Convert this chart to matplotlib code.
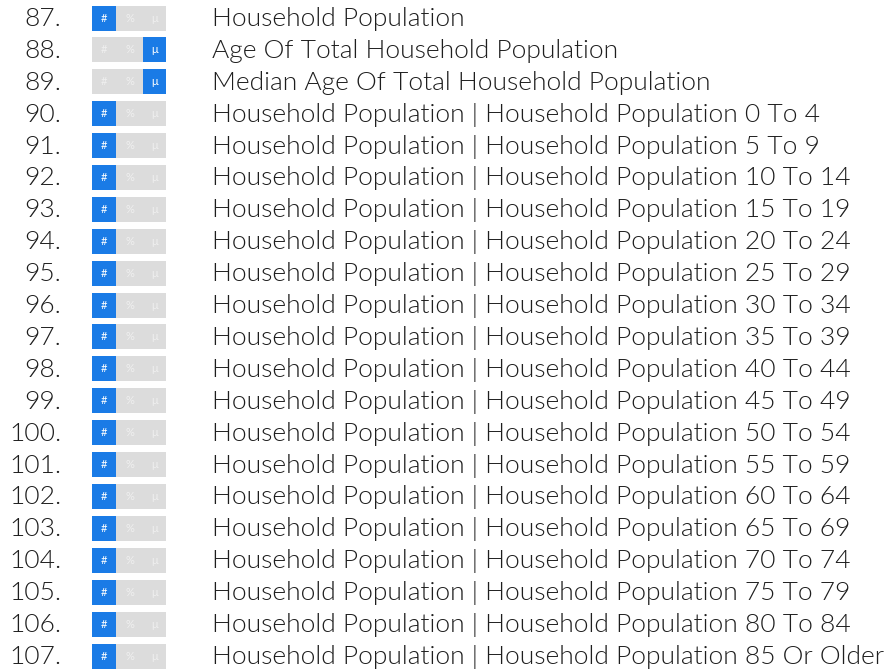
import matplotlib.pyplot as plt

# row numbers, labels and which of the three toggles (#, %, mu) is on
numbers = list(range(87, 108))
ages = ["0 To 4", "5 To 9", "10 To 14", "15 To 19", "20 To 24", "25 To 29",
        "30 To 34", "35 To 39", "40 To 44", "45 To 49", "50 To 54", "55 To 59",
        "60 To 64", "65 To 69", "70 To 74", "75 To 79", "80 To 84", "85 Or Older"]
labels = (["Household Population",
           "Age Of Total Household Population",
           "Median Age Of Total Household Population"]
          + ["Household Population | Household Population " + a for a in ages])
active = [0, 2, 2] + [0] * len(ages)
symbols = ["#", "%", "\u03bc"]

BLUE = "#1a7be6"
GRAY = "#dcdcdc"
TEXT = "#1e1e1e"

fig = plt.figure(figsize=(8.88, 6.71), dpi=100)
ax = fig.add_axes([0, 0, 1, 1])
ax.set_xlim(0, 888)
row_h = 31.9
top = 18.0
ax.set_ylim((671 - top) / row_h, -top / row_h)
ax.axis("off")

seg_left = [92, 116, 143]
seg_w = [24, 27, 23]
rows = list(range(len(numbers)))

for k in range(3):
    colors = [BLUE if a == k else GRAY for a in active]
    ax.barh(rows, [seg_w[k]] * len(rows), left=seg_left[k], height=25 / row_h,
            color=colors, linewidth=0)
    for i, a in zip(rows, active):
        ax.text(seg_left[k] + seg_w[k] / 2, i, symbols[k], ha="center", va="center",
                fontsize=8, color="white" if a == k else "#efefef",
                family="Lato")

for i, (n, lab) in zip(rows, zip(numbers, labels)):
    ax.text(61, i + 0.03, f"{n}.", ha="right", va="center", fontsize=19.0,
            color=TEXT, family="Lato", fontweight=300)
    ax.text(212, i + 0.03, lab, ha="left", va="center", fontsize=19.0,
            color=TEXT, family="Lato", fontweight=300)

fig.savefig("out.png", dpi=100)
